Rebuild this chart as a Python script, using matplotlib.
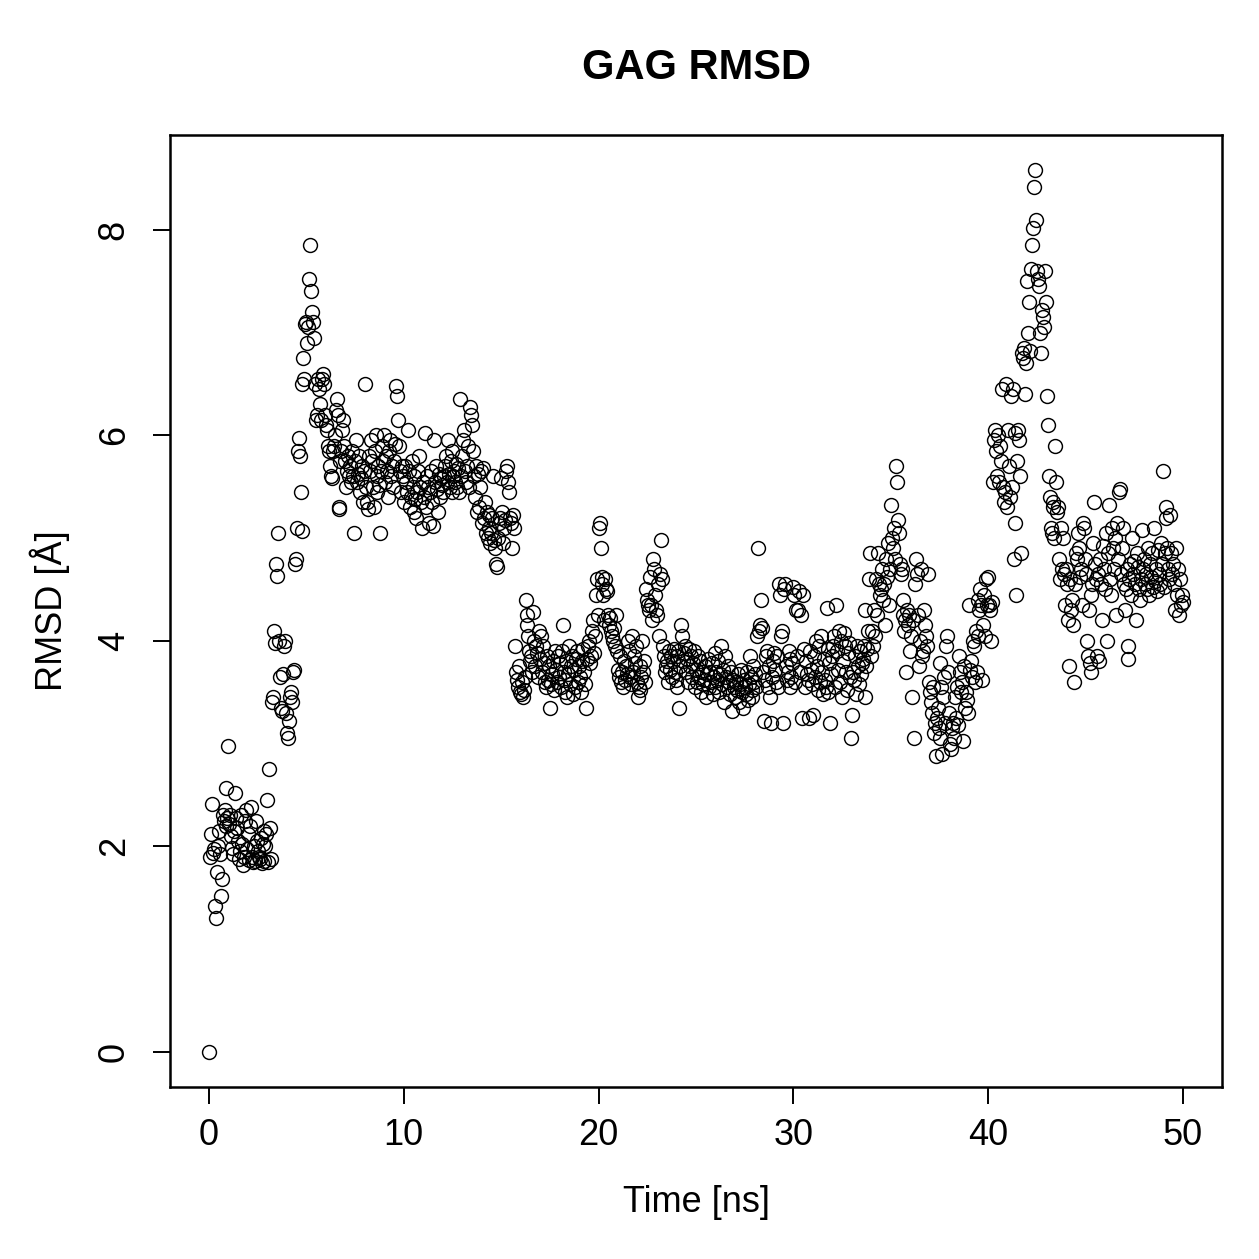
import numpy as np
import matplotlib
matplotlib.use("Agg")
import matplotlib.pyplot as plt

plt.rcParams['font.family'] = ['Liberation Sans', 'DejaVu Sans']

title = "GAG RMSD"
xlabel = "Time [ns]"
ylabel = "RMSD [Å]"
xticks = [0, 10, 20, 30, 40, 50]
yticks = [0, 2, 4, 6, 8]

# RMSD values, 20 frames per ns (0.05 ns step), t = 0 .. 50 ns
rmsd_rows = [
    [0.00, 1.90, 2.12, 2.41, 1.93, 1.97, 1.42, 1.30, 1.75, 2.00, 2.15, 1.92, 1.52, 1.68, 2.30, 2.25, 2.35, 2.20, 2.57, 2.28],
    [2.98, 2.22, 2.30, 2.10, 1.98, 1.92, 2.15, 2.52, 2.28, 2.18, 2.05, 1.88, 1.95, 2.30, 2.02, 1.82, 1.90, 2.25, 2.35, 1.97],
    [2.12, 1.87, 2.20, 2.38, 1.90, 1.85, 2.00, 1.86, 2.25, 2.05, 1.95, 1.90, 1.88, 2.08, 1.84, 2.02, 2.15, 1.86, 2.00, 2.12],
    [2.45, 1.85, 2.75, 2.18, 1.88, 3.40, 3.45, 4.10, 3.98, 4.75, 4.63, 5.05, 4.00, 3.65, 3.35, 3.32, 3.68, 3.95, 4.00, 3.30],
    [3.10, 3.05, 3.22, 3.45, 3.50, 3.40, 3.70, 3.72, 4.75, 4.80, 5.10, 5.85, 5.97, 5.80, 5.45, 5.07, 6.50, 6.75, 6.55, 7.08],
    [7.10, 6.90, 7.05, 7.52, 7.85, 7.40, 7.20, 7.10, 6.95, 6.50, 6.15, 6.20, 6.55, 6.45, 6.30, 6.15, 6.55, 6.60, 6.50, 6.20],
    [6.10, 6.05, 5.90, 5.85, 5.70, 5.60, 5.58, 5.85, 5.90, 6.00, 6.25, 6.35, 6.20, 5.30, 5.28, 5.75, 5.85, 6.05, 6.15, 5.90],
    [5.75, 5.50, 5.65, 5.80, 5.60, 5.70, 5.55, 5.85, 5.60, 5.05, 5.75, 5.95, 5.55, 5.62, 5.80, 5.45, 5.58, 5.70, 5.35, 5.65],
    [6.50, 5.50, 5.35, 5.28, 5.80, 5.65, 5.95, 5.75, 5.50, 5.30, 5.85, 6.00, 5.60, 5.45, 5.70, 5.52, 5.05, 5.65, 5.90, 5.75],
    [6.00, 5.55, 5.80, 5.65, 5.40, 5.85, 5.95, 5.60, 5.70, 5.50, 5.75, 5.92, 6.48, 6.38, 6.15, 5.90, 5.65, 5.45, 5.70, 5.60],
    [5.35, 5.70, 5.55, 5.45, 6.05, 5.65, 5.30, 5.40, 5.75, 5.50, 5.25, 5.60, 5.38, 5.20, 5.45, 5.65, 5.80, 5.50, 5.35, 5.10],
    [5.55, 5.40, 6.02, 5.30, 5.60, 5.50, 5.15, 5.45, 5.65, 5.35, 5.12, 5.95, 5.55, 5.70, 5.48, 5.25, 5.62, 5.40, 5.58, 5.52],
    [5.45, 5.60, 5.70, 5.80, 5.55, 5.95, 5.62, 5.50, 5.75, 5.45, 5.85, 5.60, 5.65, 5.55, 5.72, 5.50, 5.68, 5.45, 6.35, 5.60],
    [5.80, 5.95, 6.05, 5.65, 5.55, 5.70, 5.90, 5.50, 6.28, 6.20, 6.10, 5.85, 5.60, 5.40, 5.70, 5.25, 5.62, 5.30, 5.50, 5.65],
    [5.15, 5.68, 5.20, 5.35, 5.05, 5.25, 5.00, 5.10, 5.22, 4.95, 5.05, 5.20, 5.60, 4.98, 4.90, 4.75, 4.72, 5.00, 5.15, 5.20],
    [5.58, 5.25, 4.95, 5.10, 5.18, 5.65, 5.70, 5.55, 5.45, 5.20, 5.15, 4.90, 5.22, 5.10, 3.95, 3.70, 3.62, 3.55, 3.75, 3.50],
    [3.48, 3.60, 3.45, 3.52, 3.65, 4.40, 4.15, 4.25, 4.05, 3.90, 3.80, 3.85, 3.70, 4.28, 4.00, 3.75, 3.95, 3.88, 3.65, 4.10],
    [3.82, 4.05, 3.70, 3.95, 3.78, 3.60, 3.55, 3.85, 3.62, 3.75, 3.35, 3.58, 3.68, 3.80, 3.52, 3.90, 3.72, 3.60, 3.85, 3.65],
    [3.78, 3.55, 3.90, 4.15, 3.70, 3.50, 3.62, 3.80, 3.45, 3.68, 3.95, 3.58, 3.75, 3.85, 3.48, 3.72, 3.55, 3.82, 3.90, 3.60],
    [3.75, 3.65, 3.50, 3.80, 3.92, 3.70, 3.58, 3.35, 3.82, 3.95, 4.00, 3.78, 3.85, 4.10, 4.20, 3.88, 4.05, 4.45, 4.60, 4.25],
    [5.10, 5.15, 4.90, 4.62, 4.55, 4.45, 4.20, 4.60, 4.50, 4.48, 4.25, 4.15, 4.22, 4.10, 4.05, 4.00, 4.12, 3.95, 4.25, 3.90],
    [3.72, 3.65, 3.85, 3.60, 3.70, 3.55, 3.80, 3.62, 3.75, 3.68, 4.00, 3.90, 3.65, 3.58, 4.05, 3.70, 3.85, 3.78, 3.95, 3.60],
    [3.45, 3.55, 3.75, 3.52, 3.65, 4.00, 3.70, 3.80, 3.60, 4.50, 4.40, 4.35, 4.30, 4.62, 4.35, 4.20, 4.80, 4.70, 4.45, 4.30],
    [4.25, 4.55, 4.05, 4.65, 4.98, 4.60, 3.95, 3.85, 3.70, 3.75, 3.80, 3.60, 3.90, 3.72, 3.85, 3.65, 3.80, 3.92, 3.70, 3.62],
    [3.85, 3.55, 3.90, 3.35, 3.75, 4.15, 4.05, 3.80, 3.88, 3.95, 3.70, 3.82, 3.60, 3.92, 3.75, 3.85, 3.65, 3.78, 3.90, 3.55],
    [3.72, 3.60, 3.85, 3.65, 3.80, 3.50, 3.70, 3.58, 3.62, 3.75, 3.45, 3.68, 3.82, 3.55, 3.70, 3.60, 3.78, 3.48, 3.65, 3.88],
    [3.55, 3.70, 3.62, 3.80, 3.50, 3.68, 3.95, 3.58, 3.72, 3.40, 3.85, 3.65, 3.55, 3.75, 3.60, 3.48, 3.70, 3.32, 3.62, 3.55],
    [3.45, 3.60, 3.52, 3.68, 3.40, 3.58, 3.72, 3.50, 3.35, 3.62, 3.55, 3.48, 3.70, 3.42, 3.58, 3.85, 3.65, 3.52, 3.45, 3.75],
    [3.60, 3.68, 3.55, 4.05, 4.90, 4.10, 4.15, 4.40, 4.12, 3.70, 3.22, 3.62, 3.85, 3.90, 3.55, 3.75, 3.45, 3.20, 3.65, 3.80],
    [3.88, 3.72, 3.60, 3.85, 3.55, 4.55, 4.45, 4.05, 4.10, 3.20, 4.50, 4.55, 3.75, 3.62, 3.70, 3.90, 3.55, 3.82, 3.65, 3.78],
    [4.52, 4.45, 3.60, 4.30, 3.85, 4.30, 4.48, 3.70, 4.25, 3.25, 4.45, 3.92, 3.55, 3.80, 3.68, 3.62, 3.25, 3.90, 3.72, 3.58],
    [3.28, 3.85, 3.65, 4.00, 3.75, 3.52, 3.95, 3.60, 4.05, 3.70, 3.48, 3.82, 3.62, 3.55, 4.32, 3.92, 3.50, 3.78, 3.20, 3.68],
    [3.85, 3.95, 4.05, 3.55, 4.35, 3.90, 3.72, 4.10, 3.60, 4.00, 3.45, 3.80, 4.08, 3.95, 3.70, 3.52, 3.88, 3.98, 3.65, 3.05],
    [3.28, 3.70, 3.62, 3.85, 3.48, 3.95, 3.75, 3.58, 3.90, 3.68, 3.78, 3.82, 3.95, 3.45, 4.30, 3.75, 3.92, 4.10, 4.60, 4.85],
    [3.85, 4.10, 3.95, 4.30, 4.05, 4.60, 4.25, 4.85, 4.55, 4.45, 4.50, 4.70, 4.40, 4.55, 4.15, 4.80, 4.62, 4.95, 4.35, 4.70],
    [5.32, 5.00, 4.90, 5.10, 4.80, 5.70, 5.55, 5.18, 5.05, 4.75, 4.65, 4.70, 4.25, 4.40, 4.10, 4.20, 3.70, 4.30, 4.15, 4.25],
    [3.90, 4.05, 3.45, 4.20, 3.05, 4.55, 4.80, 4.65, 4.25, 3.75, 4.00, 4.70, 3.85, 3.90, 4.30, 4.15, 4.05, 3.95, 4.65, 3.60],
    [3.50, 3.40, 3.30, 3.55, 3.10, 3.20, 2.88, 3.25, 3.35, 3.15, 3.78, 3.05, 3.55, 2.90, 3.45, 3.65, 3.20, 3.95, 4.05, 3.70],
    [3.30, 3.00, 2.95, 3.15, 3.20, 3.05, 3.45, 3.25, 3.55, 3.18, 3.85, 3.70, 3.50, 3.60, 3.02, 3.75, 3.35, 3.50, 3.42, 3.30],
    [4.35, 3.72, 3.80, 3.65, 4.00, 3.95, 3.60, 4.10, 3.70, 4.05, 4.40, 4.30, 4.50, 4.35, 3.62, 4.15, 4.45, 4.05, 4.60, 4.35],
    [4.62, 4.35, 4.30, 4.00, 4.38, 5.55, 5.95, 6.05, 5.85, 5.60, 6.00, 5.55, 5.90, 5.75, 6.45, 5.50, 5.35, 5.45, 6.50, 5.30],
    [6.05, 5.70, 5.40, 6.38, 5.50, 6.45, 4.80, 5.15, 6.02, 4.45, 5.75, 6.05, 5.95, 5.60, 4.85, 6.80, 6.75, 6.85, 6.40, 6.70],
    [7.50, 7.00, 7.30, 6.82, 7.62, 7.85, 8.02, 8.42, 8.58, 8.10, 7.60, 7.52, 7.45, 7.00, 6.80, 7.22, 7.15, 7.05, 7.60, 7.30],
    [6.38, 6.10, 5.60, 5.40, 5.10, 5.05, 5.35, 5.30, 5.00, 5.90, 5.55, 5.25, 5.30, 4.80, 4.60, 5.10, 4.70, 5.00, 4.65, 4.35],
    [4.70, 4.55, 4.20, 3.75, 4.60, 4.30, 4.40, 4.15, 3.60, 4.55, 4.85, 4.80, 5.05, 4.90, 4.62, 4.70, 4.35, 5.15, 5.10, 4.80],
    [4.65, 4.00, 3.85, 4.30, 3.78, 4.45, 3.70, 4.55, 4.95, 5.35, 4.75, 4.60, 3.85, 4.65, 3.80, 4.80, 4.55, 4.20, 4.92, 4.70],
    [4.50, 5.05, 4.00, 4.85, 5.32, 4.60, 4.45, 5.10, 4.90, 4.70, 5.00, 4.25, 5.15, 4.80, 5.45, 5.48, 4.65, 4.90, 5.10, 4.55],
    [4.30, 4.50, 4.70, 3.95, 3.82, 4.60, 4.75, 4.45, 5.00, 4.65, 4.78, 4.55, 4.20, 4.85, 4.72, 4.50, 4.40, 4.60, 5.08, 4.70],
    [4.80, 4.55, 4.65, 4.50, 4.90, 4.45, 4.75, 4.62, 4.85, 4.52, 5.10, 4.58, 4.70, 4.48, 4.88, 4.65, 4.55, 4.95, 4.75, 5.65],
    [4.52, 4.85, 5.30, 5.20, 4.90, 4.70, 4.60, 5.22, 4.85, 4.65, 4.75, 4.55, 4.30, 4.90, 4.45, 4.70, 4.25, 4.60, 4.35, 4.45],
    [4.38],
]

rmsd = np.concatenate([np.array(r, dtype=float) for r in rmsd_rows])
time_ns = np.arange(len(rmsd)) * 0.05

W = H = 1259
fig = plt.figure(figsize=(W / 100, H / 100), dpi=100)
ax = fig.add_axes([170 / W, 1 - 1087 / H, (1222 - 170) / W, (1087 - 135) / H])

ax.plot(time_ns, rmsd, linestyle='none', marker='o', markersize=10,
        markerfacecolor='none', markeredgecolor='black', markeredgewidth=1.05)

ymax = rmsd.max()
ax.set_xlim(-2, 52)
ax.set_ylim(-0.04 * ymax, ymax * 1.04)
ax.set_xticks(xticks)
ax.set_yticks(yticks)
ax.set_xticklabels([str(v) for v in xticks])
ax.set_yticklabels([str(v) for v in yticks], rotation=90, va='center')
ax.tick_params(axis='both', direction='out', length=12.5, width=1.4,
               labelsize=26, colors='black')
ax.tick_params(axis='x', pad=10)
ax.tick_params(axis='y', pad=15)
for s in ax.spines.values():
    s.set_linewidth(1.8)

fig.text(696 / W, 1 - 68 / H, title, ha='center', va='center',
         fontsize=30, fontweight='bold')
fig.text(696 / W, 1 - 1203 / H, xlabel, ha='center', va='center', fontsize=26)
fig.text(50 / W, 1 - 611 / H, ylabel, ha='center', va='center', fontsize=26,
         rotation=90)

fig.savefig("out.png", dpi=100)
